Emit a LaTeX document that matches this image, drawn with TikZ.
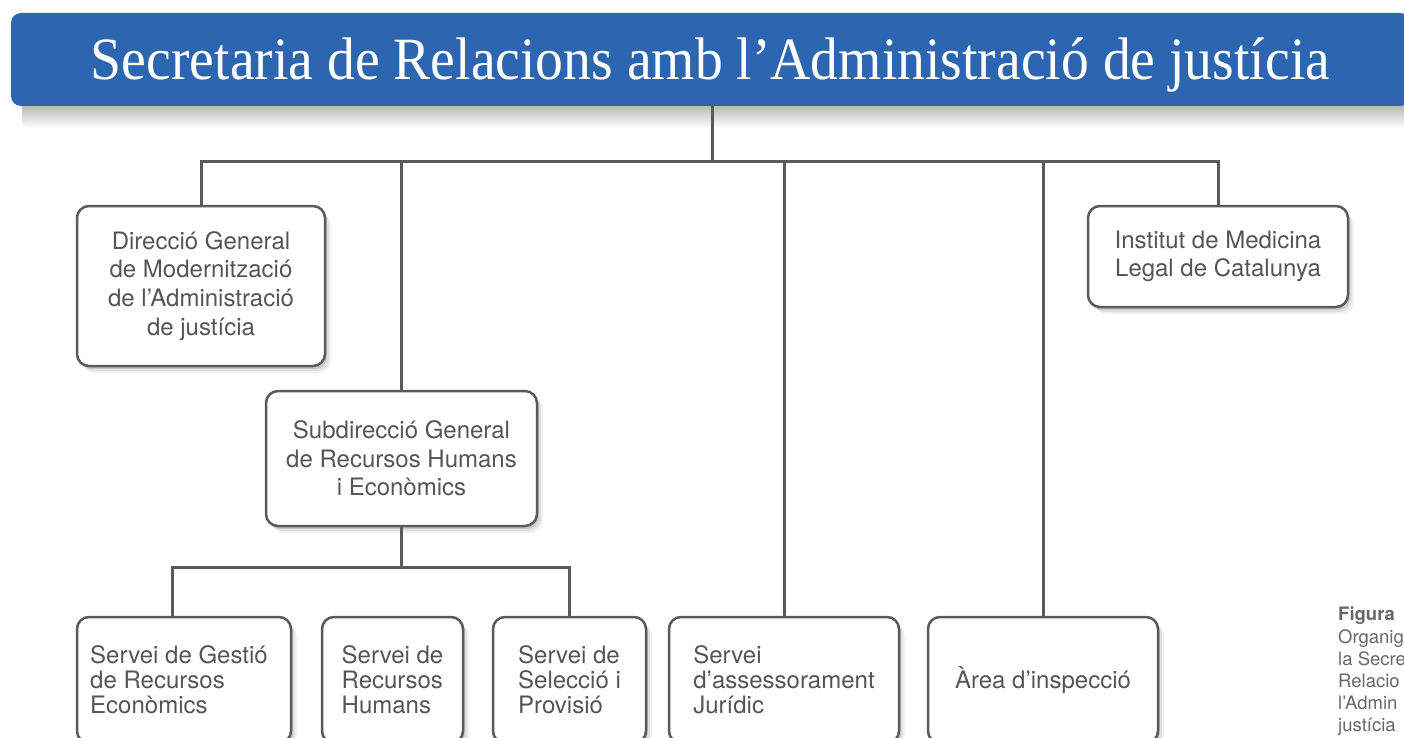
\documentclass[tikz,border=0pt]{standalone}
\usepackage{fontspec}
\setsansfont{TeX Gyre Heros}
\newfontfamily\mytitlefont{Liberation Serif}
\usetikzlibrary{shadows}
\definecolor{bannerc}{HTML}{2D66B0}
\definecolor{linec}{HTML}{5A5A5A}
\definecolor{txtc}{HTML}{555555}
\definecolor{capc}{HTML}{686868}
\newcommand\mytitletext{Secretaria de Relacions amb l’Administració de justícia}
\newlength\mytitlew
\begin{document}
\settowidth\mytitlew{\mytitlefont\fontsize{60}{62}\selectfont\mytitletext}%
\pgfmathsetmacro\mytsx{1239/\mytitlew}%
\begin{tikzpicture}[x=1pt,y=-1pt,
  conn/.style={draw=linec, line width=3pt},
  softshadow/.style={
    drop shadow={shadow xshift=2pt, shadow yshift=-3pt, opacity=.10, fill=black},
    drop shadow={shadow xshift=4pt, shadow yshift=-5pt, opacity=.07, fill=black},
    drop shadow={shadow xshift=6pt, shadow yshift=-7pt, opacity=.05, fill=black}},
  orgbox/.style={draw=linec, line width=2.5pt, fill=white, rounded corners=12pt,
    inner sep=0pt, text=txtc, font=\sffamily\fontsize{24}{28.7}\selectfont,
    align=center, softshadow},
  leafbox/.style={orgbox, font=\sffamily\fontsize{24}{25}\selectfont, align=left,
    minimum height=126pt},
  captext/.style={inner sep=0pt, text=capc, font=\sffamily\fontsize{18.5}{22.2}\selectfont,
    align=left}
]
\useasboundingbox (0,0) rectangle (1404,738);
\clip (0,0) rectangle (1404,738);
\fill[white] (0,0) rectangle (1404,738);

% banner shadow
\shade[top color=black!40, bottom color=white, rounded corners=8pt]
  (22,96) rectangle (1420,128);
\node[fill=bannerc, rounded corners=10pt, minimum width=1399pt, minimum height=93pt,
  inner sep=0pt, text=white, text height=40pt, text depth=0pt,
  font=\mytitlefont\fontsize{60}{62}\selectfont] (title) at (710.5,59.5)
  {\scalebox{\mytsx}[1]{\mytitletext}};

% boxes
\node[orgbox, minimum width=248pt, minimum height=160pt] (dg) at (201,286)
  {Direcció General\\de Modernització\\de l’Administració\\de justícia};
\node[orgbox, minimum width=260pt, minimum height=101pt] (inst) at (1218,256.5)
  {Institut de Medicina\\Legal de Catalunya};
\node[orgbox, minimum width=271pt, minimum height=135pt] (sub) at (401.5,458.5)
  {Subdirecció General\\de Recursos Humans\\i Econòmics};

\node[leafbox, minimum width=214pt] (gest) at (184,680)
  {Servei de Gestió\hspace*{10pt}\\de Recursos\\Econòmics};
\node[leafbox, minimum width=141pt] (rh) at (392.5,680)
  {Servei de\\Recursos\\Humans};
\node[leafbox, minimum width=153pt] (sel) at (569.5,680)
  {Servei de\\Selecció i\\Provisió};
\node[leafbox, minimum width=230pt] (ass) at (784,680)
  {Servei\\d’assessorament\\Jurídic};
\node[leafbox, minimum width=230pt] (area) at (1043,680)
  {Àrea d’inspecció};

% connectors
\coordinate (j0) at (712,162);
\coordinate (j1) at (401,567);
\coordinate (j1l) at (172,567);
\draw[conn] (title.south -| j0) -- (j0);
\draw[conn] (dg.north) -- (dg.north |- j0) -- (inst.north |- j0) -- (inst.north);
\draw[conn] (sub.north |- j0) -- (sub.north);
\draw[conn] (ass.north |- j0) -- (ass.north);
\draw[conn] (area.north |- j0) -- (area.north);
\draw[conn] (sub.south -| j1) -- (j1);
\draw[conn] (j1l |- gest.north) -- (j1l) -- (sel.north |- j1) -- (sel.north);

% caption (cropped at the right edge)
\node[captext, anchor=north west] (cap) at (1338,607)
  {\textbf{Figura}\\Organig\\la Secre\\Relacio\\l’Admin\\justícia};
\end{tikzpicture}
\end{document}
